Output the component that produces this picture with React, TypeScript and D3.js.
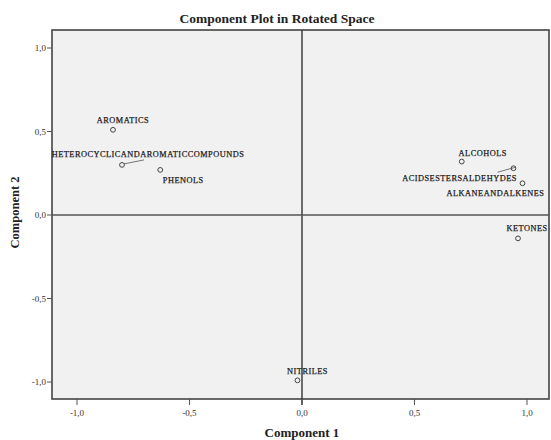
import React from "react";
import * as d3 from "d3";

const names = [
  "AROMATICS",
  "HETEROCYCLICANDAROMATICCOMPOUNDS",
  "PHENOLS",
  "ALCOHOLS",
  "ACIDSESTERSALDEHYDES",
  "ALKANEANDALKENES",
  "KETONES",
  "NITRILES",
];
const comp1 = [-0.84, -0.8, -0.63, 0.71, 0.94, 0.98, 0.96, -0.02];
const comp2 = [0.51, 0.3, 0.27, 0.32, 0.28, 0.19, -0.14, -0.99];
const xTicks = [-1.0, -0.5, 0.0, 0.5, 1.0];
const yTicks = [-1.0, -0.5, 0.0, 0.5, 1.0];

// label layout offsets (px) relative to each point, plus optional leader end
const labelOffsets: Record<string, { dx: number; dy: number; lx?: number; ly?: number }> = {
  AROMATICS: { dx: 10, dy: -7 },
  HETEROCYCLICANDAROMATICCOMPOUNDS: { dx: 26, dy: -8, lx: 22, ly: -5 },
  PHENOLS: { dx: 23, dy: 13 },
  ALCOHOLS: { dx: 21, dy: -6 },
  ACIDSESTERSALDEHYDES: { dx: -54, dy: 13, lx: -16, ly: 4 },
  ALKANEANDALKENES: { dx: -27, dy: 13 },
  KETONES: { dx: 9, dy: -7 },
  NITRILES: { dx: 10, dy: -6 },
};

const W = 551;
const H = 440;
const left = 52;
const right = 549;
const top = 30;
const bottom = 399;

const fmt = (v: number) => d3.format(".1f")(v).replace(".", ",").replace("\u2212", "-");

export default function App() {
  const x = d3.scaleLinear().domain([-1, 1]).range([77, 527]);
  const y = d3.scaleLinear().domain([-1, 1]).range([382, 48]);
  const serif = "'Liberation Serif', 'Times New Roman', serif";
  return (
    <svg
      width={W}
      height={H}
      style={{ position: "absolute", left: 0, top: 0, background: "#fff" }}
      fontFamily={serif}
    >
      <text x={277} y={23} textAnchor="middle" fontSize={13.5} fontWeight="bold" fill="#222">
        Component Plot in Rotated Space
      </text>
      <rect x={left} y={top} width={right - left} height={bottom - top} fill="#f1f1f1" stroke="#444" strokeWidth={1.6} />
      {/* reference lines */}
      <line x1={x(0)} x2={x(0)} y1={top} y2={bottom + 6} stroke="#333" strokeWidth={1.4} />
      <line x1={left} x2={right} y1={y(0)} y2={y(0)} stroke="#555" strokeWidth={1.6} />
      {/* x axis ticks */}
      {xTicks.map((t) => (
        <g key={"x" + t}>
          <line x1={x(t)} x2={x(t)} y1={bottom} y2={bottom + 6} stroke="#555" strokeWidth={1} />
          <text x={x(t)} y={bottom + 17} textAnchor="middle" fontSize={9} fill="#333">
            {fmt(t)}
          </text>
        </g>
      ))}
      {/* y axis ticks */}
      {yTicks.map((t) => (
        <g key={"y" + t}>
          <line x1={left - 5} x2={left} y1={y(t)} y2={y(t)} stroke="#555" strokeWidth={1} />
          <text x={left - 6} y={y(t) + 3} textAnchor="end" fontSize={9} fill="#333">
            {fmt(t)}
          </text>
        </g>
      ))}
      <text x={302} y={437} textAnchor="middle" fontSize={13} fontWeight="bold" fill="#222">
        Component 1
      </text>
      <text
        transform={`translate(19,${(top + bottom) / 2 - 2}) rotate(-90)`}
        textAnchor="middle"
        fontSize={12.5}
        fontWeight="bold"
        fill="#222"
      >
        Component 2
      </text>
      {/* points */}
      {names.map((n, i) => {
        const px = x(comp1[i]);
        const py = y(comp2[i]);
        const o = labelOffsets[n];
        return (
          <g key={n}>
            {o.lx !== undefined && (
              <line x1={px + 2} y1={py - 1} x2={px + (o.lx as number)} y2={py + (o.ly as number)} stroke="#555" strokeWidth={0.8} />
            )}
            <circle cx={px} cy={py} r={2.4} fill="none" stroke="#444" strokeWidth={1} />
            <text
              x={px + o.dx}
              y={py + o.dy}
              textAnchor="middle"
              fontSize={8.3}
              letterSpacing={0.5}
              fill="#222"
              stroke="#222"
              strokeWidth={0.25}
            >
              {n}
            </text>
          </g>
        );
      })}
    </svg>
  );
}
